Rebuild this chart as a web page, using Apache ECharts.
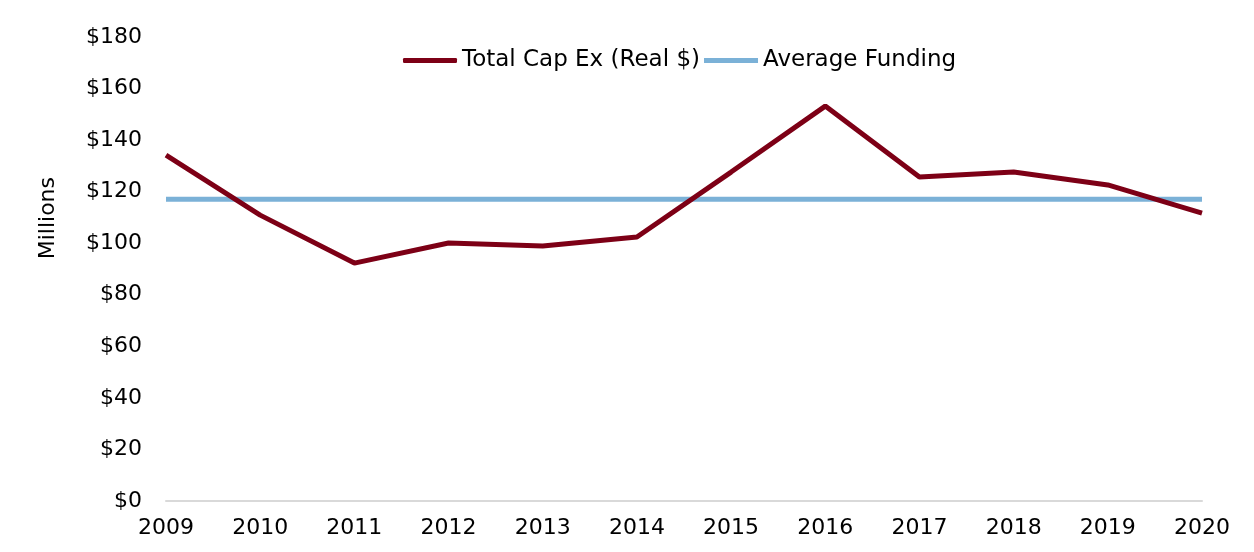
<!DOCTYPE html>
<html><head><meta charset="utf-8">
<script src="https://cdn.jsdelivr.net/npm/echarts@6/dist/echarts.min.js"></script>
<style>html,body{margin:0;padding:0;background:#fff}#c{width:1254px;height:552px}</style>
</head><body><div id="c"></div>
<script>
const years = ['2009','2010','2011','2012','2013','2014','2015','2016','2017','2018','2019','2020'];
const totalCapEx = [134.2,110.9,92.3,100.1,98.9,102.4,127.6,153.2,125.7,127.6,122.6,111.7];
const averageFunding = [117.1,117.1,117.1,117.1,117.1,117.1,117.1,117.1,117.1,117.1,117.1,117.1];
const yTicks = [0,20,40,60,80,100,120,140,160,180];

const FONT = '"DejaVu Sans", sans-serif';
const chart = echarts.init(document.getElementById('c'), null, {renderer:'canvas'});
chart.setOption({
  animation:false,
  grid:{left:166,right:52,top:37,bottom:51,containLabel:false},
  legend:{
    top:44,left:398,itemWidth:54,itemHeight:5,itemGap:4,
    textStyle:{fontFamily:FONT,fontSize:23,color:'#000'},
    data:[{name:'Total Cap Ex (Real $)',icon:'roundRect'},{name:'Average Funding',icon:'rect'}]
  },
  graphic:[{type:'text',left:37,top:177,rotation:Math.PI/2,
    style:{text:'Millions',font:'22px '+FONT,fill:'#000'}}],
  xAxis:{type:'category',data:years,boundaryGap:false,
    axisLine:{lineStyle:{color:'#d9d9d9',width:2}},axisTick:{show:false},
    axisLabel:{fontFamily:FONT,fontSize:22,color:'#000',margin:16}},
  yAxis:{type:'value',min:0,max:180,interval:20,
    axisLine:{show:false},axisTick:{show:false},splitLine:{show:false},
    axisLabel:{fontFamily:FONT,fontSize:22,color:'#000',margin:24,
      formatter:v=>yTicks.includes(v)?'$'+v:''}},
  series:[
    {name:'Total Cap Ex (Real $)',type:'line',data:totalCapEx,symbol:'none',z:3,
      lineStyle:{color:'#7d0016',width:5},itemStyle:{color:'#7d0016'}},
    {name:'Average Funding',type:'line',data:averageFunding,symbol:'none',z:2,
      lineStyle:{color:'#7bb1d7',width:5},itemStyle:{color:'#7bb1d7'}}
  ]
});
</script></body></html>
